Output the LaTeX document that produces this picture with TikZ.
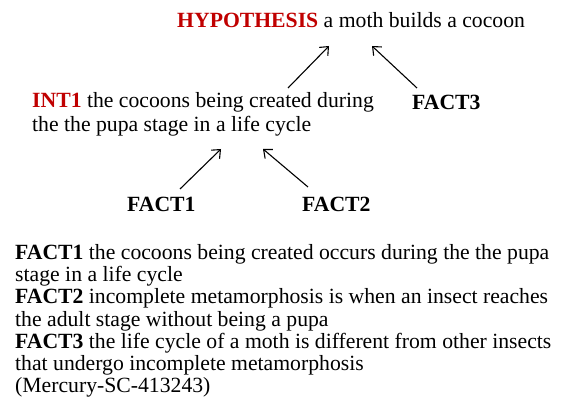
\documentclass[tikz,border=0pt]{standalone}
\usepackage{fontspec}
\setmainfont{Liberation Serif}
\usepackage{xcolor}
\usepackage{tikz}
\usetikzlibrary{arrows.meta,positioning,calc}
\definecolor{hypred}{RGB}{192,0,0}

\begin{document}
\begin{tikzpicture}[x=1pt, y=1pt, font=\fontsize{21.7}{24.5}\selectfont,
    lbl/.style={inner sep=0pt, anchor=base west, align=left},
    link/.style={-{Straight Barb[length=7pt, width=12pt]}, line width=1.1pt}]
        \useasboundingbox (0,0) rectangle (565,419);

        \node[lbl] (hyp) at (177,391) {\textbf{\color{hypred}HYPOTHESIS} a moth builds a cocoon};
        \node[lbl] (int1) at (32,287) {\textbf{\color{hypred}INT1} the cocoons being created during\\the the pupa stage in a life cycle};
        \node[lbl] (fact3) at (412,309) {\textbf{FACT3}};
        \node[lbl] (fact1) at (127,207) {\textbf{FACT1}};
        \node[lbl] (fact2) at (302,207) {\textbf{FACT2}};
        \node[lbl, font=\fontsize{21.7}{22.33}\selectfont] (facts) at (15,26) {\textbf{FACT1} the cocoons being created occurs during the the pupa\\stage in a life cycle\\\textbf{FACT2} incomplete metamorphosis is when an insect reaches\\the adult stage without being a pupa\\\textbf{FACT3} the life cycle of a moth is different from other insects\\that undergo incomplete metamorphosis\\(Mercury-SC-413243)};

        \draw[link] ([shift={(256,44)}]int1.base west) -- ([shift={(152,-18)}]hyp.base west);
        \draw[link] ([shift={(5,22)}]fact3.base west) -- ([shift={(195,-18)}]hyp.base west);
        \draw[link] ([shift={(53,23)}]fact1.base west) -- ([shift={(189,-17)}]int1.base west);
        \draw[link] ([shift={(6,25)}]fact2.base west) -- ([shift={(231,-17)}]int1.base west);
      \end{tikzpicture}
\end{document}
